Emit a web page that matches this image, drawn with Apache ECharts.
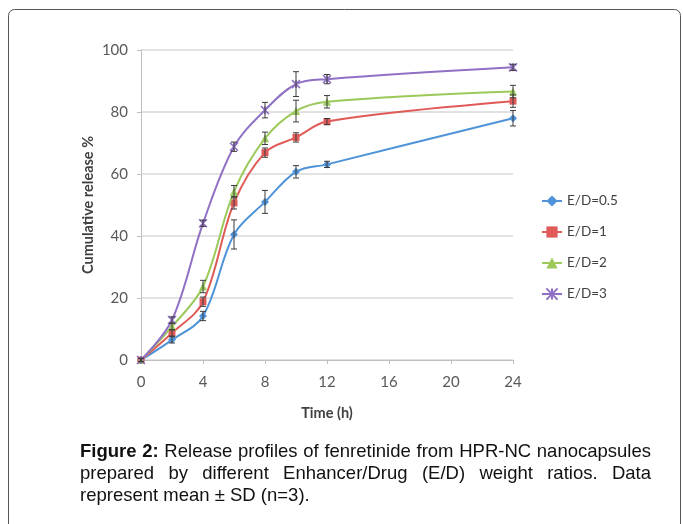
<!DOCTYPE html>
<html>
<head>
<meta charset="utf-8">
<script src="https://cdn.jsdelivr.net/npm/echarts@6/dist/echarts.min.js"></script>
<style>
html,body{margin:0;padding:0;background:#fff;}
#chart{width:683px;height:524px;}
</style>
</head>
<body>
<div id="chart"></div>
<script>
// ---- data ----
const times = [0, 2, 4, 6, 8, 10, 12, 24];
const xTicks = [0, 4, 8, 12, 16, 20, 24];
const yTicks = [0, 20, 40, 60, 80, 100];
const seriesNames = ['E/D=0.5', 'E/D=1', 'E/D=2', 'E/D=3'];
const ed05 = [0, 6.5, 14.2, 40.5, 51, 60.7, 63.1, 78];
const ed1 = [0, 8.7, 18.8, 50.7, 66.9, 71.8, 76.9, 83.5];
const ed2 = [0, 10.8, 23.7, 54.3, 71.5, 80.3, 83.3, 86.6];
const ed3 = [0, 12.9, 44.1, 68.8, 80.6, 89, 90.6, 94.4];
const sd05 = [0.5, 1, 1.5, 4.7, 3.7, 2, 1, 2.5];
const sd1 = [0.5, 1, 1.5, 2, 1.5, 1.5, 1, 2];
const sd2 = [0.5, 1, 2, 2, 2, 3.5, 2, 2];
const sd3 = [0.5, 1, 1, 1.5, 2.5, 4, 1.5, 1];
const captionLines = [
  [{t: 'Figure 2:', b: true}, {t: 'Release profiles of fenretinide from HPR-NC nanocapsules', b: false}],
  [{t: 'prepared by different Enhancer/Drug (E/D) weight ratios. Data', b: false}],
  [{t: 'represent mean \u00b1 SD (n=3).', b: false}]
];

// ---- styles ----
const colors = ['#4f93d8', '#e05a57', '#9bc95a', '#9070c4'];
const symbols = ['diamond', 'rect', 'triangle', 'path://M0,0L10,10M10,0L0,10M5,0L5,10'];
const symbolSizes = [8, 7, 8, 8];
const values = [ed05, ed1, ed2, ed3];
const sds = [sd05, sd1, sd2, sd3];
const fontFam = 'Lato, "Open Sans", sans-serif';

const chart = echarts.init(document.getElementById('chart'));

function errRender(params, api) {
  const x = api.value(0), lo = api.value(1), hi = api.value(2);
  const p1 = api.coord([x, lo]), p2 = api.coord([x, hi]);
  const w = 3;
  const st = {stroke: '#3a3a3a', lineWidth: 1};
  return {type: 'group', children: [
    {type: 'line', shape: {x1: p1[0], y1: p1[1], x2: p2[0], y2: p2[1]}, style: st},
    {type: 'line', shape: {x1: p1[0] - w, y1: p1[1], x2: p1[0] + w, y2: p1[1]}, style: st},
    {type: 'line', shape: {x1: p2[0] - w, y1: p2[1], x2: p2[0] + w, y2: p2[1]}, style: st}
  ]};
}

const series = [];
values.forEach((v, k) => {
  series.push({
    name: seriesNames[k], type: 'line', smooth: 0.35,
    data: times.map((t, i) => [t, v[i]]),
    symbol: symbols[k], symbolSize: symbolSizes[k],
    lineStyle: {color: colors[k], width: 2},
    itemStyle: k === 3 ? {color: colors[k], borderColor: colors[k], borderWidth: 1.5} : {color: colors[k]},
    z: 2 + k
  });
});
values.forEach((v, k) => {
  series.push({
    type: 'custom', renderItem: errRender, silent: true, z: 10,
    data: times.map((t, i) => [t, v[i] - sds[k][i], v[i] + sds[k][i]])
  });
});

// ---- caption with justification ----
const capFont = 18.5, capFamily = '"Liberation Sans", Arial, sans-serif';
const capLeft = 80, capRight = 651;
const capY = [452, 474, 496];
const ctx = document.createElement('canvas').getContext('2d');
function measure(s, b) {
  ctx.font = (b ? 'bold ' : '') + capFont + 'px ' + capFamily;
  return ctx.measureText(s).width;
}
const graphics = [{
  type: 'rect', shape: {x: 8.5, y: 9.5, width: 672, height: 540, r: 6},
  style: {fill: 'none', stroke: '#555', lineWidth: 1}, silent: true
}];
captionLines.forEach((line, li) => {
  const words = [];
  line.forEach(seg => seg.t.split(' ').forEach(w => words.push({t: w, b: seg.b})));
  const widths = words.map(w => measure(w.t, w.b));
  const total = widths.reduce((a, b) => a + b, 0);
  const justify = li < captionLines.length - 1;
  const gap = justify ? (capRight - capLeft - total) / (words.length - 1) : measure(' ', false);
  let x = capLeft;
  words.forEach((w, i) => {
    graphics.push({
      type: 'text', x: x, y: capY[li], silent: true,
      style: {text: w.t, fill: '#111', fontSize: capFont, fontFamily: capFamily,
              fontWeight: w.b ? 'bold' : 'normal', verticalAlign: 'middle', align: 'left'}
    });
    x += widths[i] + gap;
  });
});

const option = {
  animation: false,
  backgroundColor: '#fff',
  grid: {left: 141, right: 170, top: 50, bottom: 164},
  legend: {
    orient: 'vertical', left: 536, top: 189,
    itemWidth: 20, itemHeight: 14, itemGap: 17,
    data: seriesNames,
    textStyle: {fontSize: 13.5, color: '#404040', fontFamily: fontFam}
  },
  xAxis: {
    type: 'value', min: xTicks[0], max: xTicks[xTicks.length - 1], interval: 4,
    name: 'Time (h)', nameLocation: 'middle', nameGap: 46, nameMoveOverlap: false,
    nameTextStyle: {fontSize: 14.5, fontWeight: 'bold', color: '#404040', fontFamily: fontFam},
    axisLine: {show: true, lineStyle: {color: '#bfbfbf'}},
    axisTick: {show: true, length: 4, lineStyle: {color: '#bfbfbf'}},
    axisLabel: {fontSize: 15, color: '#595959', margin: 15, fontFamily: fontFam},
    splitLine: {show: false}
  },
  yAxis: {
    type: 'value', min: yTicks[0], max: yTicks[yTicks.length - 1], interval: 20,
    name: 'Cumulative release %', nameLocation: 'middle', nameGap: 45, nameMoveOverlap: false,
    nameTextStyle: {fontSize: 14.5, fontWeight: 'bold', color: '#404040', fontFamily: fontFam},
    axisLine: {show: true, lineStyle: {color: '#bfbfbf'}},
    axisTick: {show: true, length: 4, lineStyle: {color: '#bfbfbf'}},
    axisLabel: {fontSize: 15, color: '#595959', margin: 13, fontFamily: fontFam},
    splitLine: {show: true, lineStyle: {color: '#d9d9d9', width: 1.5}}
  },
  series: series,
  graphic: graphics
};
chart.setOption(option);
</script>
</body>
</html>
